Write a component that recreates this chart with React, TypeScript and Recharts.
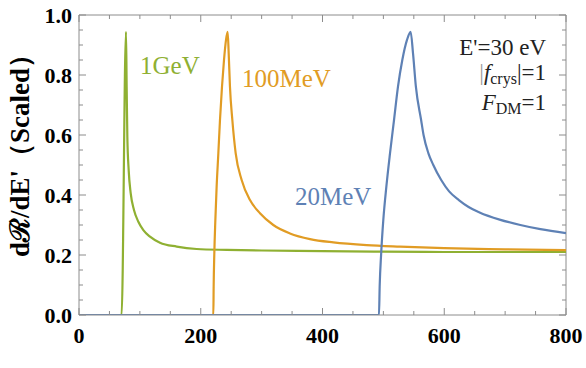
import { LineChart, Line, XAxis, YAxis, ReferenceLine } from 'recharts';

// x values [km/s] and scaled rates, one pair of arrays per mass
const gevX = [0, 70, 77.2, 78.3, 79.4, 81.6, 84.9, 90.3, 97.5, 105.7, 116.6, 133, 160.5, 193.3, 242.6, 300, 400, 500, 600, 700, 800];
const gevY = [0, 0, 0.944, 0.761, 0.594, 0.483, 0.406, 0.35, 0.311, 0.283, 0.261, 0.241, 0.228, 0.22, 0.217, 0.215, 0.213, 0.211, 0.21, 0.21, 0.21];

const mev100X = [0, 220.7, 221.2, 222.3, 224, 226.1, 228.9, 231.6, 234.9, 238.2, 241.5, 244.2, 245.9, 248, 251.9, 257.4, 267.2, 280.9, 297.3, 319.2, 346.6, 379.5, 417.8, 472.6, 527.3, 600, 700, 800];
const mev100Y = [0, 0, 0.094, 0.206, 0.317, 0.428, 0.539, 0.65, 0.761, 0.85, 0.917, 0.944, 0.872, 0.761, 0.65, 0.539, 0.45, 0.383, 0.339, 0.3, 0.272, 0.253, 0.242, 0.233, 0.228, 0.223, 0.219, 0.216];

const mev20X = [0, 492.8, 493.9, 496.4, 499.9, 504.9, 510.9, 517.5, 524, 531.1, 538.8, 544.8, 548.7, 553.4, 562, 566, 574, 582, 595, 608, 624, 640, 658, 691, 725, 758, 800];
const mev20Y = [0, 0, 0.094, 0.206, 0.317, 0.428, 0.539, 0.65, 0.761, 0.85, 0.917, 0.944, 0.872, 0.761, 0.65, 0.6, 0.539, 0.5, 0.45, 0.412, 0.383, 0.36, 0.342, 0.318, 0.3, 0.286, 0.273];

const xMajor = [0, 200, 400, 600, 800];
const xMinor = [0, 50, 100, 150, 200, 250, 300, 350, 400, 450, 500, 550, 600, 650, 700, 750, 800];
const yMajor = [0, 0.2, 0.4, 0.6, 0.8, 1.0];
const yMinor = [0, 0.05, 0.1, 0.15, 0.2, 0.25, 0.3, 0.35, 0.4, 0.45, 0.5, 0.55, 0.6, 0.65, 0.7, 0.75, 0.8, 0.85, 0.9, 0.95, 1.0];

const BLUE = '#5E81B5';
const ORANGE = '#E19C24';
const GREEN = '#8FB032';
const FRAME = '#8c8c8c';
const SERIF = '"Liberation Serif", "Times New Roman", serif';

const W = 586, H = 368;
const MARGIN = { top: 15, right: 20, bottom: 13, left: 29 };
const Y_AXIS_W = 50, X_AXIS_H = 40;
const PLOT_W = W - MARGIN.left - MARGIN.right - Y_AXIS_W;
const PLOT_H = H - MARGIN.top - MARGIN.bottom - X_AXIS_H;

const toRows = (xs: number[], ys: number[]) => xs.map((x, i) => ({ x, y: ys[i] }));
const isMajor = (v: number, list: number[]) => list.some((m) => Math.abs(m - v) < 1e-9);

const LABEL = { fill: '#000', fontSize: 22, fontWeight: 700, fontFamily: SERIF };

// Mathematica-style frame: inward ticks on all four sides, labels only on bottom/left majors
function XTick({ x, y, payload }: any) {
  const major = isMajor(payload.value, xMajor);
  const len = major ? 7 : 4;
  return (
    <g>
      <line x1={x} x2={x} y1={y} y2={y - len} stroke={FRAME} />
      <line x1={x} x2={x} y1={y - PLOT_H} y2={y - PLOT_H + len} stroke={FRAME} />
      {major && <text x={x} y={y + 12} dy="0.71em" textAnchor="middle" {...LABEL}>{payload.value}</text>}
    </g>
  );
}

function YTick({ x, y, payload }: any) {
  const major = isMajor(payload.value, yMajor);
  const len = major ? 7 : 4;
  return (
    <g>
      <line x1={x} x2={x + len} y1={y} y2={y} stroke={FRAME} />
      <line x1={x + PLOT_W} x2={x + PLOT_W - len} y1={y} y2={y} stroke={FRAME} />
      {major && <text x={x - 7} y={y} dy="0.355em" textAnchor="end" {...LABEL}>{payload.value.toFixed(1)}</text>}
    </g>
  );
}

export default function App() {
  const gev = toRows(gevX, gevY);
  const mev100 = toRows(mev100X, mev100Y);
  const mev20 = toRows(mev20X, mev20Y);

  return (
    <div style={{ position: 'absolute', left: 0, top: 0, width: W, height: H, overflow: 'hidden', background: '#fff', fontFamily: SERIF }}>
      <LineChart width={W} height={H} margin={MARGIN}>
        <XAxis type="number" dataKey="x" domain={[0, 800]} allowDataOverflow ticks={xMinor} interval={0}
          height={X_AXIS_H} tickLine={false} tickSize={0} tickMargin={0} axisLine={{ stroke: FRAME }} tick={<XTick />} />
        <YAxis type="number" domain={[0, 1]} allowDataOverflow ticks={yMinor} interval={0} width={Y_AXIS_W}
          tickLine={false} tickSize={0} tickMargin={0} axisLine={{ stroke: FRAME }} tick={<YTick />} />
        <ReferenceLine y={1} stroke={FRAME} />
        <ReferenceLine x={800} stroke={FRAME} />

        <Line data={gev} dataKey="y" type="monotone" stroke={GREEN} strokeWidth={2.2} dot={false} isAnimationActive={false} />
        <Line data={mev100} dataKey="y" type="monotone" stroke={ORANGE} strokeWidth={2.2} dot={false} isAnimationActive={false} />
        <Line data={mev20} dataKey="y" type="monotone" stroke={BLUE} strokeWidth={2.2} dot={false} isAnimationActive={false} />
      </LineChart>

      <svg width={W} height={H} style={{ position: 'absolute', left: 0, top: 0, pointerEvents: 'none' }} fontFamily={SERIF}>
        <text transform="translate(29,149) rotate(-90)" textAnchor="middle" fontSize={27} fontWeight={700} fill="#000">
          dℛ/dE'（Scaled）
        </text>
        <text x={308} y={384} fontSize={24} fontWeight={700} fill="#000" letterSpacing={2}>[km/s]</text>

        <text x={140} y={74} fontSize={25} fill={GREEN}>1GeV</text>
        <text x={242} y={87} fontSize={25} fill={ORANGE}>100MeV</text>
        <text x={295} y={205} fontSize={25} fill={BLUE}>20MeV</text>

        <g fontSize={23} fill="#222" textAnchor="end">
          <text x={546} y={55}>E'=30 eV</text>
          <text x={546} y={80}>
            <tspan fill="#999">|</tspan>
            <tspan fontStyle="italic">f</tspan>
            <tspan fontSize={16} dy={4}>crys</tspan>
            <tspan dy={-4}>|=1</tspan>
          </text>
          <text x={546} y={110}>
            <tspan fontStyle="italic">F</tspan>
            <tspan fontSize={16} dy={4}>DM</tspan>
            <tspan dy={-4}>=1</tspan>
          </text>
        </g>
      </svg>
    </div>
  );
}
